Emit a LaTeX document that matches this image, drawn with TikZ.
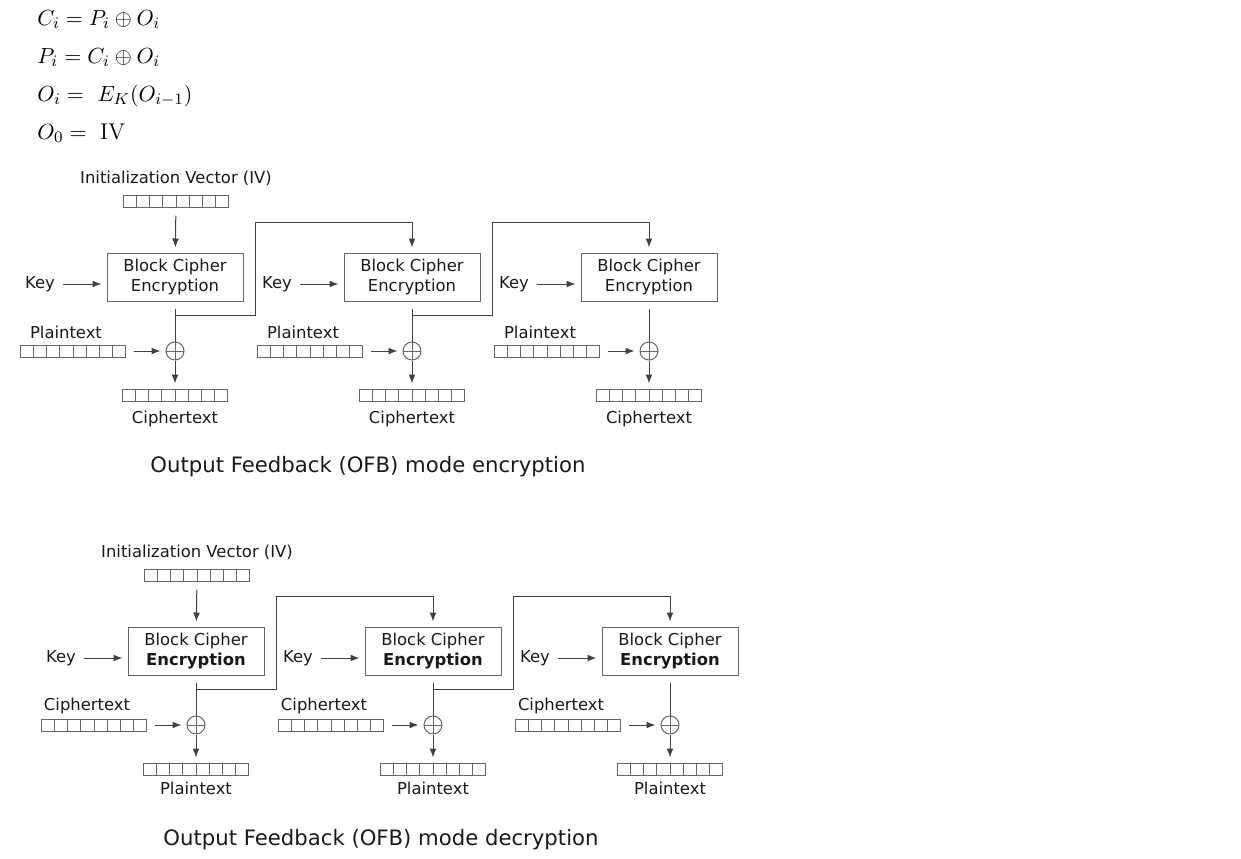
\documentclass[tikz,border=0pt]{standalone}
\usepackage{fontspec}
\newfontfamily\dvsans{DejaVu Sans}
\usetikzlibrary{arrows.meta}
\tikzset{
  lbl/.style={font=\dvsans\fontsize{8.2}{10}\selectfont, text=black!90, inner sep=0pt},
  eqn/.style={font=\fontsize{11.4}{13}\selectfont, anchor=base west, inner sep=0pt},
  ttl/.style={font=\dvsans\fontsize{10.6}{12}\selectfont, text=black!90, inner sep=0pt},
  cipherbox/.style={lbl, draw=black!60, line width=0.5pt, minimum width=68pt, minimum height=24pt, align=center},
  register/.style={draw=black!60, line width=0.5pt, minimum width=52.5pt, minimum height=6pt, inner sep=0pt,
    path picture={\foreach \k in {1,...,7}
      \draw[black!60, line width=0.5pt] ([xshift=\k*6.5625pt]path picture bounding box.south west) -- ([xshift=\k*6.5625pt]path picture bounding box.north west);}},
  xorop/.style={circle, draw=black!60, line width=0.5pt, minimum size=9pt, inner sep=0pt,
    path picture={\draw[black!60, line width=0.5pt] (path picture bounding box.north) -- (path picture bounding box.south) (path picture bounding box.west) -- (path picture bounding box.east);}},
  flow/.style={line width=0.5pt, draw=black!75},
  arr/.style={flow, -{Latex[length=4.5pt,width=3.4pt]}, shorten >=2.5pt},
}
\begin{document}
\begin{tikzpicture}[x=0.5pt, y=-0.5pt]
\useasboundingbox (0,0) rectangle (1241,858);
% equations
\node[eqn] (eq1) at (37,25) {$C_i = P_i \oplus O_i$};
\node[eqn] (eq2) at (37,63) {$P_i = C_i \oplus O_i$};
\node[eqn] (eq3) at (37,101) {$O_i = \ E_K(O_{i-1})$};
\node[eqn] (eq4) at (37,139) {$O_0 = \ \mathrm{IV}$};
% encryption (e) and decryption (d)
\foreach \dg/\dx/\dy/\inp/\outp/\ciph/\lbly in {e/0/0/Plaintext/Ciphertext/Encryption/24,
    d/21/374/Ciphertext/Plaintext/\textbf{Encryption}/19} {
  \node[lbl] (\dg ivl) at (176+\dx,178+\dy) {Initialization Vector (IV)};
  \node[register] (\dg iv) at (176+\dx,201+\dy) {};
  \foreach \i in {0,1,2} {
    \pgfmathsetmacro\cx{175+\dx+237*\i}
    \node[cipherbox] (\dg box\i) at (\cx,277+\dy) {Block Cipher\\\ciph};
    \node[lbl] (\dg key\i) at (\cx-135,284+\dy) {Key};
    \node[register] (\dg in\i) at (\cx-102,351+\dy) {};
    \node[lbl] (\dg inl\i) at (\cx-109,332+\dy) {\inp};
    \node[xorop] (\dg xor\i) at (\cx,351+\dy) {};
    \node[register] (\dg out\i) at (\cx,395+\dy) {};
    \node[lbl] (\dg outl\i) at (\cx,395+\lbly+\dy) {\outp};
    \coordinate (\dg fb\i) at (\cx,315+\dy);
    \draw[arr, shorten <=4pt] (\dg key\i) -- (\dg key\i -| \dg box\i.west);
    \draw[arr, shorten <=4pt] (\dg in\i) -- (\dg xor\i);
    \draw[flow] ([yshift=-3.5pt]\dg box\i.south) -- (\dg xor\i.north);
    \draw[arr] (\dg xor\i) -- (\dg out\i);
  }
  \draw[arr, shorten <=4pt] (\dg iv) -- (\dg box0);
  \draw[arr] (\dg fb0) -- ++(80,0) -- ++(0,-93) -| (\dg box1.north);
  \draw[arr] (\dg fb1) -- ++(80,0) -- ++(0,-93) -| (\dg box2.north);
}
\node[ttl] (enctitle) at (368,467) {Output Feedback (OFB) mode encryption};
\node[ttl] (dectitle) at (381,840) {Output Feedback (OFB) mode decryption};
\end{tikzpicture}
\end{document}
